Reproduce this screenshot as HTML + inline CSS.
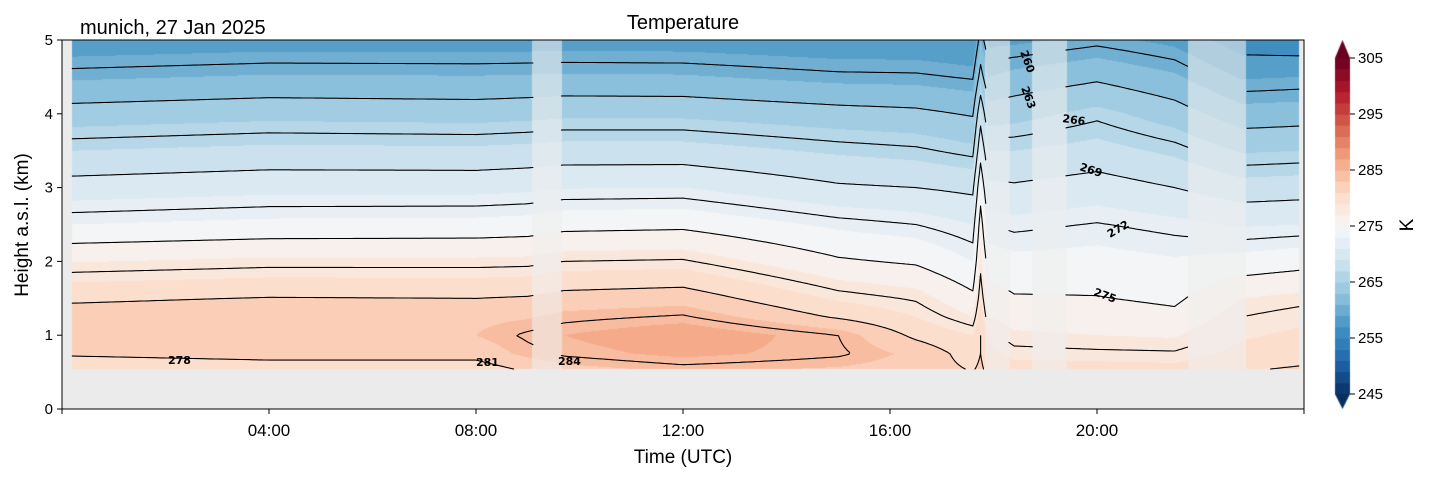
<!DOCTYPE html>
<html><head><meta charset="utf-8"><style>
html,body{margin:0;padding:0;background:#fff;}
#wrap{position:relative;width:1429px;height:478px;overflow:hidden;font-family:"Liberation Sans","DejaVu Sans",sans-serif;}
canvas,svg{position:absolute;left:0;top:0;}
</style></head><body>
<div id="wrap">
<canvas id="cv" width="1429" height="478"></canvas>
<svg id="sv" width="1429" height="478"></svg>
</div>
<script>
// ---- data ----
const heights = [0.5,0.75,1.0,1.25,1.5,2.0,2.5,3.0,3.5,4.0,4.5,5.0];
const profileTimes = [0.2,4,8,9.0,9.7,12,15,16.5,17.6,17.75,17.9,18.4,20,21.5,22.8,23.9];
const profiles = [
 [279.0,281.3,282.5,282.1,280.6,276.9,273.0,269.9,267.0,263.9,260.7,257.6],
 [279.5,281.8,283.0,282.6,281.1,277.4,273.5,270.4,267.5,264.4,261.2,258.0],
 [279.5,281.8,283.0,282.5,281.0,277.4,273.6,270.4,267.4,264.2,261.1,258.0],
 [281.0,283.5,284.3,282.8,281.2,277.5,273.8,270.6,267.6,264.4,261.2,258.0],
 [282.0,284.3,285.0,283.5,281.8,278.0,274.3,270.9,267.8,264.6,261.3,258.0],
 [283.0,285.5,286.5,284.2,282.2,278.2,274.5,271.0,267.8,264.6,261.2,258.0],
 [282.5,284.3,284.0,280.7,278.7,275.3,272.6,269.3,266.7,263.8,260.4,257.5],
 [282.0,282.5,280.5,279.0,277.8,274.7,272.0,269.0,266.3,263.5,260.3,257.5],
 [281.0,280.0,279.0,277.0,275.5,273.0,271.0,268.5,265.5,262.8,259.8,257.0],
 [281.5,281.0,281.0,280.0,279.0,277.5,276.0,274.0,271.0,268.0,264.0,261.0],
 [280.5,279.5,278.5,277.0,276.0,274.0,272.0,269.5,267.0,264.0,261.0,258.5],
 [280.0,278.5,277.3,276.2,275.2,273.5,271.6,269.3,267.0,264.3,261.6,258.6],
 [280.0,278.3,277.0,276.0,275.1,273.7,272.1,270.0,267.7,265.6,262.6,259.5],
 [279.8,278.2,276.8,275.5,274.6,273.2,271.5,269.0,266.6,264.0,261.3,258.5],
 [281.0,279.5,278.8,278.0,277.0,273.7,270.8,267.8,264.8,261.8,258.8,255.8],
 [281.5,280.0,279.3,278.6,277.5,274.2,271.0,268.0,265.0,262.0,259.0,255.5]
];
const gaps = [[9.08,9.66],[17.84,18.32],[18.74,19.42],[21.76,22.32],[22.32,22.88]];
const contourLevels = [257,260,263,266,269,272,275,278,281,284];
const xTickLabels = ["04:00","08:00","12:00","16:00","20:00"];
const xTickHours = [4,8,12,16,20];
const yTicks = [0,1,2,3,4,5];
const cbTicks = [245,255,265,275,285,295,305];

// ---- geometry ----
const X0=62,X1=1304,Y0=409,Y1=40;
const xs=h=>X0+(X1-X0)*h/24;
const ys=k=>Y0-(Y0-Y1)*k/5;
const xinv=x=>(x-X0)*24/(X1-X0);
const yinv=y=>(Y0-y)*5/(Y0-Y1);
const T0=profileTimes[0],T1=profileTimes[profileTimes.length-1];

function temp(t,z){
  let i=0; while(i<profileTimes.length-2 && t>profileTimes[i+1]) i++;
  let ft=(t-profileTimes[i])/(profileTimes[i+1]-profileTimes[i]); ft=Math.max(0,Math.min(1,ft));
  let j=0; while(j<heights.length-2 && z>heights[j+1]) j++;
  let fz=(z-heights[j])/(heights[j+1]-heights[j]); fz=Math.max(0,Math.min(1,fz));
  const a=profiles[i][j]*(1-fz)+profiles[i][j+1]*fz;
  const b=profiles[i+1][j]*(1-fz)+profiles[i+1][j+1]*fz;
  return a*(1-ft)+b*ft;
}
// RdBu_r
const cstops=[[0,[5,48,97]],[0.1,[33,102,172]],[0.2,[67,147,195]],[0.3,[146,197,222]],[0.4,[209,229,240]],[0.5,[247,247,247]],[0.6,[253,219,199]],[0.7,[244,165,130]],[0.8,[214,96,77]],[0.9,[178,24,43]],[1,[103,0,31]]];
function cmap(f){f=Math.max(0,Math.min(1,f));let k=0;while(k<cstops.length-2&&f>cstops[k+1][0])k++;
  const a=cstops[k],b=cstops[k+1],u=(f-a[0])/(b[0]-a[0]);
  return a[1].map((v,i)=>Math.round(v+(b[1][i]-v)*u));}
function bandColor(T){const lo=245+2*Math.floor((T-245)/2);return cmap((lo+1.4-245)/60);}

// ---- fill ----
const cv=document.getElementById('cv'),ctx=cv.getContext('2d');
ctx.fillStyle='#ebebeb';ctx.fillRect(X0,Y1,X1-X0,Y0-Y1);
const xa=Math.round(xs(T0)),xb=Math.round(xs(T1)),ya=Y1,yb=369;
const img=ctx.getImageData(xa,ya,xb-xa,yb-ya);
for(let px=0;px<xb-xa;px++){const t=xinv(xa+px+0.5);
  let g=gaps.some(G=>t>=G[0]&&t<G[1]);
  for(let py=0;py<yb-ya;py++){const z=yinv(ya+py+0.5);let c=bandColor(temp(t,z));
    if(g){c=c.map(v=>Math.round(v*0.4+238*0.6));}
    const o=(py*(xb-xa)+px)*4;img.data[o]=c[0];img.data[o+1]=c[1];img.data[o+2]=c[2];img.data[o+3]=255;}}
ctx.putImageData(img,xa,ya);
// colorbar
for(let L=245;L<305;L+=2){const c=cmap((L+1-245)/60);ctx.fillStyle=`rgb(${c})`;
  const yT=394-(L+2-245)*5.6,yB=394-(L-245)*5.6;ctx.fillRect(1335,yT,15,yB-yT+0.6);}
let c0=cmap(0),c1=cmap(1);
ctx.fillStyle=`rgb(${c1})`;ctx.beginPath();ctx.moveTo(1335,58);ctx.lineTo(1350,58);ctx.lineTo(1342.5,40);ctx.fill();
ctx.fillStyle=`rgb(${c0})`;ctx.beginPath();ctx.moveTo(1335,394);ctx.lineTo(1350,394);ctx.lineTo(1342.5,409);ctx.fill();

// ---- svg ----
const NS='http://www.w3.org/2000/svg',sv=document.getElementById('sv');
function mk(tag,at,txt){const e=document.createElementNS(NS,tag);for(const k in at)e.setAttribute(k,at[k]);if(txt!==undefined)e.textContent=txt;sv.appendChild(e);return e;}
// contours via marching squares
const z0=yinv(369);
const dt=0.05,dz=0.025;const nt=Math.round((T1-T0)/dt),nz=Math.round((5-z0)/dz);
const grid=[];for(let i=0;i<=nt;i++){grid.push([]);for(let j=0;j<=nz;j++)grid[i].push(temp(T0+i*dt,z0+j*dz)+1e-7);}
contourLevels.forEach(L=>{let d='';
  for(let i=0;i<nt;i++){const tc=T0+(i+0.5)*dt;if(gaps.some(G=>tc>=G[0]&&tc<G[1]))continue;
    for(let j=0;j<nz;j++){const v=[grid[i][j],grid[i+1][j],grid[i+1][j+1],grid[i][j+1]];
      const p=[[i,j],[i+1,j],[i+1,j+1],[i,j+1]];const pts=[];
      for(let e=0;e<4;e++){const a=v[e],b=v[(e+1)%4];if((a<L)!==(b<L)){const u=(L-a)/(b-a);
        const pa=p[e],pb=p[(e+1)%4];const ti=T0+(pa[0]+(pb[0]-pa[0])*u)*dt,zj=z0+(pa[1]+(pb[1]-pa[1])*u)*dz;pts.push([xs(ti),ys(zj)]);}}
      for(let k=0;k+1<pts.length;k+=2)d+=`M${pts[k][0].toFixed(1)} ${pts[k][1].toFixed(1)}L${pts[k+1][0].toFixed(1)} ${pts[k+1][1].toFixed(1)}`;}}
  const el=mk('path',{d:d,fill:'none',stroke:'#000','stroke-width':1.1,'stroke-linecap':'round'});
  
  
});
// axes frame
const fr=mk('rect',{x:X0,y:Y1,width:X1-X0,height:Y0-Y1,fill:'none',stroke:'#000','stroke-width':1});

xTickHours.forEach((h,i)=>{const x=xs(h);mk('line',{x1:x,x2:x,y1:Y0,y2:Y0+5,stroke:'#000'});
  const t=mk('text',{x:x,y:Y0+27,'text-anchor':'middle','font-size':17},xTickLabels[i]);
  });
[0,24].forEach(h=>mk('line',{x1:xs(h),x2:xs(h),y1:Y0,y2:Y0+5,stroke:'#000'}));
yTicks.forEach(k=>{const y=ys(k);mk('line',{x1:X0-5,x2:X0,y1:y,y2:y,stroke:'#000'});
  const t=mk('text',{x:X0-9,y:y+5,'text-anchor':'end','font-size':15},String(k));
  });
cbTicks.forEach(v=>{const y=394-(v-245)*5.6;mk('line',{x1:1350,x2:1355,y1:y,y2:y,stroke:'#000'});
  const t=mk('text',{x:1358,y:y+5,'font-size':15},String(v));
  });
</script>
<svg width="1429" height="478" style="position:absolute;left:0;top:0">
<text x="683" y="29" text-anchor="middle" font-size="20" font-family="Liberation Sans,sans-serif">Temperature</text>
<text x="80" y="34" font-size="20" font-family="Liberation Sans,sans-serif">munich, 27 Jan 2025</text>
<text x="683" y="463" text-anchor="middle" font-size="19" font-family="Liberation Sans,sans-serif">Time (UTC)</text>
<text transform="translate(28,225) rotate(-90)" text-anchor="middle" font-size="19" font-family="Liberation Sans,sans-serif">Height a.s.l. (km)</text>
<text transform="translate(1413,225) rotate(-90)" text-anchor="middle" font-size="19" font-family="Liberation Sans,sans-serif">K</text>
<g font-size="11" font-weight="bold" font-family="DejaVu Sans,sans-serif">
<text x="168" y="364">278</text>
<text x="476" y="366">281</text>
<text x="558" y="365">284</text>
<text transform="translate(1020,52) rotate(70)">260</text>
<text transform="translate(1021,88) rotate(70)">263</text>
<text transform="translate(1062,122) rotate(8)">266</text>
<text transform="translate(1079,170) rotate(18)">269</text>
<text transform="translate(1110,238) rotate(-30)">272</text>
<text transform="translate(1093,295) rotate(20)">275</text>
</g>
</svg>
</body></html>
